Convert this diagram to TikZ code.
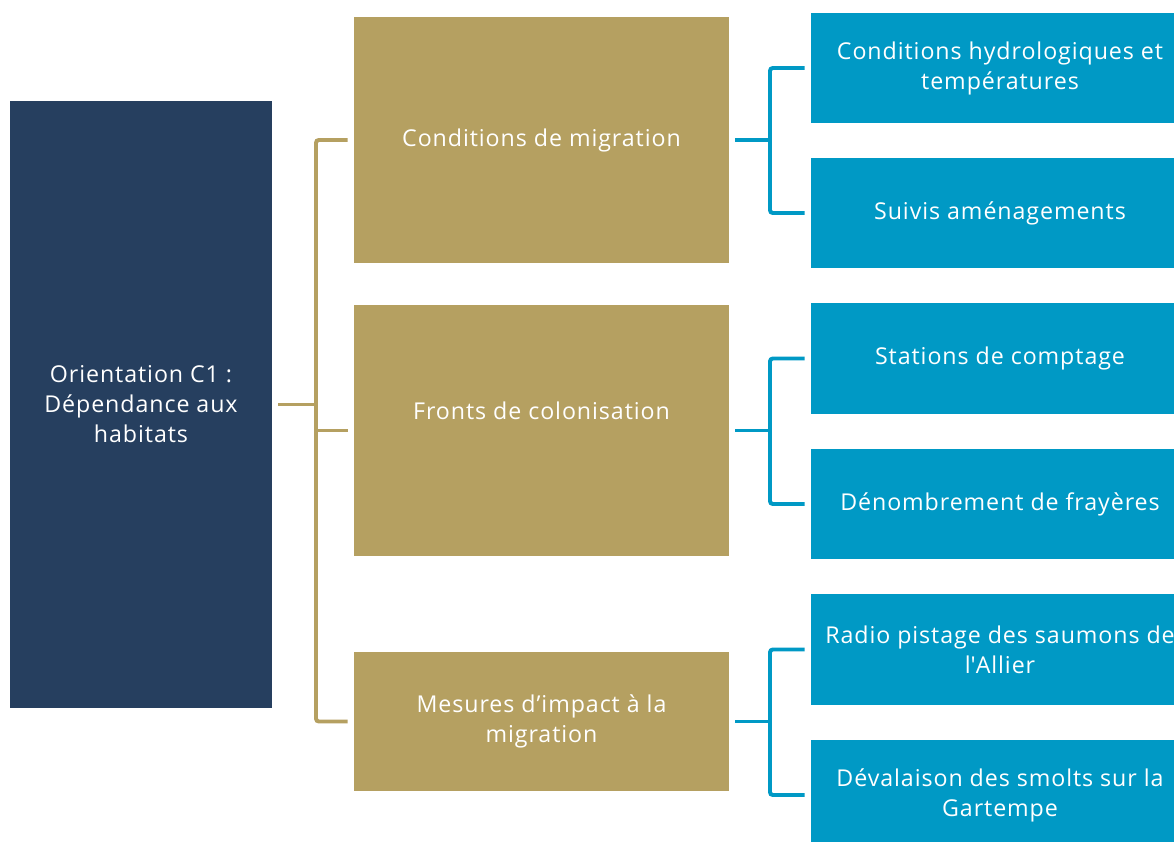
\documentclass[tikz,border=0pt]{standalone}
\usepackage{fontspec}
\setmainfont{Open Sans}[LetterSpace=4]
\usepackage{tikz}
\usetikzlibrary{positioning}
\definecolor{PlanNavy}{HTML}{263F5F}
\definecolor{PlanGold}{HTML}{B5A061}
\definecolor{PlanBlue}{HTML}{0099C5}
\tikzset{
  box/.style={
    draw=none,
    text=white,
    align=center,
    inner sep=0pt,
    font=\fontsize{16.5}{21.3}\selectfont
  },
  orientbox/.style={box,fill=PlanNavy,minimum width=6.55cm,minimum height=15.175cm},
  themebox/.style={box,fill=PlanGold,minimum width=9.375cm},
  actionbox/.style={box,fill=PlanBlue,minimum width=9.45cm,minimum height=2.75cm},
  goldlink/.style={draw=PlanGold,line width=2.8pt,rounded corners=2pt},
  bluelink/.style={draw=PlanBlue,line width=2.8pt,rounded corners=2pt}
}

\begin{document}
\begin{tikzpicture}[x=0.025cm,y=-0.025cm]
  \useasboundingbox (0,0) rectangle (1174,841);
  \clip (0,0) rectangle (1174,841);
  % orientation
  \node[orientbox] (orient) at (141,404.5) {Orientation C1 :\\Dépendance aux\\habitats};
  % themes
  \node[themebox,minimum height=6.15cm] (migr) at (541.5,140) {Conditions de migration};
  \node[themebox,minimum height=6.275cm] (front) at (541.5,430.5) {};
  \node[box] (fronttext) at ([yshift=0.5cm]front.center) {Fronts de colonisation};
  \node[themebox,minimum height=3.475cm] (impact) at (541.5,721.5) {Mesures d’impact à la\\migration};
  % actions
  \node[actionbox] (hydro) at (1000,68) {Conditions hydrologiques et\\températures};
  \node[actionbox] (suivi) at (1000,213) {Suivis aménagements};
  \node[actionbox] (stations) at (1000,358.5) {Stations de comptage};
  \node[actionbox] (frayeres) at (1000,504) {Dénombrement de frayères};
  \node[actionbox] (radio) at (1000,649.5) {Radio pistage des saumons de\\l\textquotesingle Allier};
  \node[actionbox] (smolts) at (1000,795) {Dévalaison des smolts sur la\\Gartempe};
  % links
  \coordinate (goldbus) at (316,0);
  \draw[goldlink] ([xshift=-0.15cm]migr.west) -- (migr.west -| goldbus)
    -- (impact.west -| goldbus) -- ([xshift=-0.15cm]impact.west);
  \draw[goldlink] ([xshift=0.15cm]orient.east) -- (orient.east -| goldbus);
  \draw[goldlink] (front.west -| goldbus) -- ([xshift=-0.15cm]front.west);
  \coordinate (bluebus) at (770,0);
  \foreach \theme/\upper/\lower in {migr/hydro/suivi,front/stations/frayeres,impact/radio/smolts} {
    \draw[bluelink] ([xshift=0.15cm]\theme.east) -- (\theme.east -| bluebus);
    \draw[bluelink] ([xshift=-0.15cm]\upper.west) -- (\upper.west -| bluebus)
      -- (\lower.west -| bluebus) -- ([xshift=-0.15cm]\lower.west);
  }
\end{tikzpicture}
\end{document}
